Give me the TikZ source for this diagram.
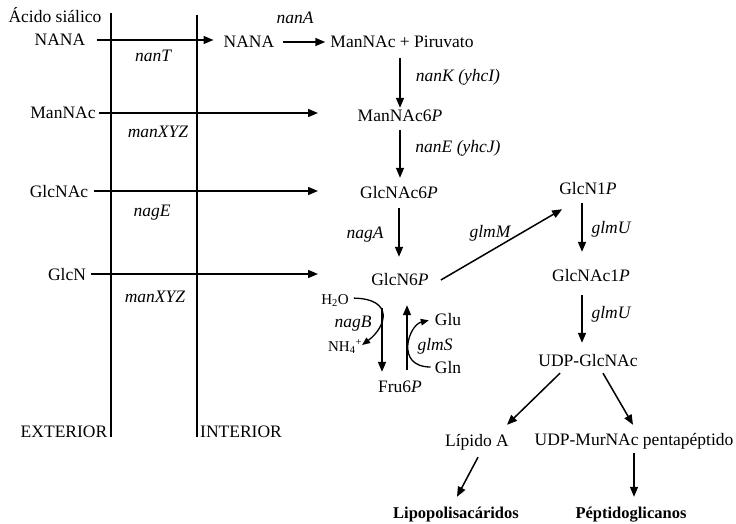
\documentclass[tikz,border=0pt]{standalone}
\usepackage{fontspec}
\setmainfont{Liberation Serif}
\usepackage{tikz}
\usetikzlibrary{arrows.meta, calc}
\newcommand{\rutafont}{\fontsize{17.5}{21}\selectfont}

\begin{document}
\begin{tikzpicture}[
    x=1pt, y=1pt,
    font=\rutafont,
    met/.style={anchor=base, inner sep=0pt, text height=12pt, text depth=0pt},
    gene/.style={met, font=\rutafont\itshape},
    ion/.style={met, font=\fontsize{15}{18}\selectfont},
    final/.style={met, font=\fontsize{16.5}{20}\selectfont\bfseries},
    membrane/.style={line width=2pt},
    arrow/.style={-{Triangle[length=10pt, width=8pt]}, line width=1.5pt},
    small arrow/.style={-{Triangle[length=8pt, width=6.5pt]}, line width=1.3pt}
]
\useasboundingbox[fill=white] (0,0) rectangle (736,523);

% membrana
\draw[membrane] (111,510) -- (111,86);
\draw[membrane] (197,508) -- (197,86);
\node[met] (exterior) at (64,86) {EXTERIOR};
\node[met] (interior) at (241,86) {INTERIOR};

% exterior
\node[met] (acido) at (55,500) {Ácido siálico};
\node[met] (nanaL) at (60,477) {NANA};
\node[met] (mannacL) at (63,404) {ManNAc};
\node[met] (glcnacL) at (59,326) {GlcNAc};
\node[met] (glcnL) at (67,243) {GlcN};

\node[gene] (nanT) at (153,461) {nanT};
\node[gene] (manXYZa) at (158,385) {manXYZ};
\node[gene] (nagE) at (152,306) {nagE};
\node[gene] (manXYZb) at (155,221) {manXYZ};

% interior
\node[met] (nanaR) at (249,475) {NANA};
\node[met] (manpir) at (402,475) {ManNAc + Piruvato};
\node[met] (mannac6p) at (400,401) {ManNAc6\textit{P}};
\node[met] (glcnac6p) at (399,324) {GlcNAc6\textit{P}};
\node[met] (glcn6p) at (400,238) {GlcN6\textit{P}};
\node[met] (fru6p) at (400,131) {Fru6\textit{P}};
\node[met] (glcn1p) at (588,328) {GlcN1\textit{P}};
\node[met] (glcnac1p) at (591,242) {GlcNAc1\textit{P}};
\node[met] (udpglcnac) at (588,157) {UDP-GlcNAc};
\node[met] (lipidoA) at (477,77) {Lípido A};
\node[met] (udpmurnac) at (634,78) {UDP-MurNAc pentapéptido};
\node[final] (lps) at (456,5) {Lipopolisacáridos};
\node[final] (pgn) at (631,5) {Péptidoglicanos};
\node[ion] (h2o) at (335,219) {H\textsubscript{2}O};
\node[ion] (nh4) at (345,172) {NH\textsubscript{4}\textsuperscript{+}};
\node[met] (glu) at (448,198) {Glu};
\node[met] (gln) at (448,150) {Gln};

\node[gene] (nanA) at (295,499) {nanA};
\node[gene] (nanK) at (458,441) {nanK (yhcI)};
\node[gene] (nanE) at (458,370) {nanE (yhcJ)};
\node[gene] (nagA) at (365,285) {nagA};
\node[gene] (glmM) at (490,286) {glmM};
\node[gene] (glmUa) at (611,290) {glmU};
\node[gene] (glmUb) at (611,205) {glmU};
\node[gene] (nagB) at (353,196) {nagB};
\node[gene] (glmS) at (435,173) {glmS};

% transporte
\coordinate (cyto) at (318,0);
\draw[arrow, shorten <=12pt, shorten >=10pt] (nanaL.east) -- (nanaL.east -| nanaR.west);
\draw[arrow, shorten <=3pt] (mannacL.east) -- (mannacL.east -| cyto);
\draw[arrow, shorten <=6pt] (glcnacL.east) -- (glcnacL.east -| cyto);
\draw[arrow, shorten <=5pt] (glcnL.east) -- (glcnL.east -| cyto);

% ruta
\draw[arrow, shorten <=9pt, shorten >=5pt] (nanaR.east) -- (nanaR.east -| manpir.west);
\draw[arrow, shorten <=10pt, shorten >=2pt] (mannac6p.north |- manpir.south) -- (mannac6p.north);
\draw[arrow, shorten <=8pt, shorten >=9pt] (mannac6p.south) -- (mannac6p.south |- glcnac6p.north);
\draw[arrow, shorten <=9pt, shorten >=16pt] (glcnac6p.south) -- (glcnac6p.south |- glcn6p.north);
\draw[arrow] ($(glcn6p.east)+(12,-1)$) -- ($(glcn1p.south west)+(3,-14)$);
\draw[arrow, shorten <=8pt, shorten >=17pt] ([xshift=-6pt]glcn1p.south) -- ([xshift=-6pt]glcn1p.south |- glcnac1p.north);
\draw[arrow, shorten <=14pt, shorten >=11pt] ([xshift=-9pt]glcnac1p.south) -- ([xshift=-9pt]glcnac1p.south |- udpglcnac.north);
\draw[arrow] ($(udpglcnac.south)+(-28,-7)$) -- ($(lipidoA.north)+(30,9)$);
\draw[arrow] ($(udpglcnac.south)+(15,-7)$) -- ($(udpmurnac.north)+(-1,8)$);
\draw[arrow] ($(lipidoA.south)+(1,-11)$) -- ($(lps.north)+(1,9)$);
\draw[arrow, shorten <=8pt, shorten >=9pt] (udpmurnac.south) -- (udpmurnac.south |- pgn.north);

% nagB / glmS
\draw[arrow] ($(glcn6p.south)+(-18,-23)$) -- ($(fru6p.north)+(-18,8)$);
\draw[arrow] ($(fru6p.north)+(7,10)$) -- ($(glcn6p.south)+(7,-20)$);
\draw[small arrow, shorten <=5pt] (h2o.east) .. controls +(46,-1) and +(24,18) .. (nh4.east);
\draw[small arrow, shorten <=4pt, shorten >=6pt] (gln.west) .. controls +(-40,0) and +(-26,-6) .. (glu.west);
\end{tikzpicture}
\end{document}
